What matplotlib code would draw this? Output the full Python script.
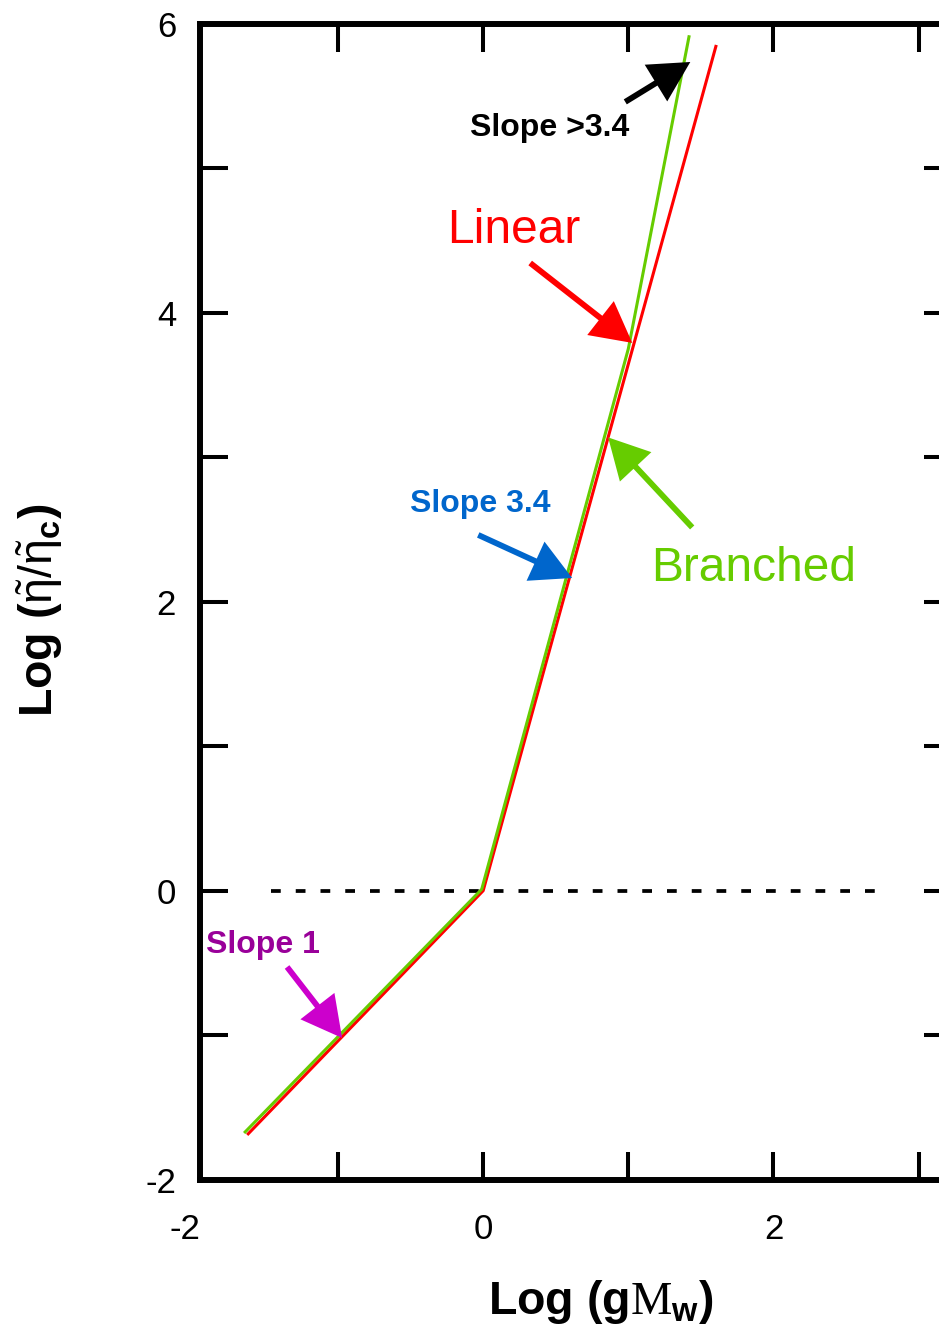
import matplotlib
matplotlib.use("Agg")
import matplotlib.pyplot as plt

plt.rcParams['font.family'] = ['Liberation Sans', 'DejaVu Sans']
plt.rcParams['mathtext.fontset'] = 'custom'
plt.rcParams['mathtext.rm'] = 'Liberation Serif'
plt.rcParams['mathtext.sf'] = 'Liberation Sans'
plt.rcParams['mathtext.bf'] = 'Liberation Sans:bold'

# datos
linear_x = [-1.626, 0.0, 1.606]
linear_y = [-1.69, 0.0, 5.853]
branched_x = [-1.647, -0.01, 1.0, 1.42]
branched_y = [-1.677, 0.01, 3.75, 5.92]
ref_x = [-1.461, 2.715]
ref_y = [0.0, 0.0]

x_ticks = [-2, -1, 0, 1, 2, 3]
x_labels = ['-2', '', '0', '', '2', '']
y_ticks = [-2, -1, 0, 1, 2, 3, 4, 5, 6]
y_labels = ['-2', '', '0', '', '2', '', '4', '', '6']

# (texto, color texto, color flecha, peso, tamano, posicion del texto, cola flecha, punta flecha)
notes = [
    ('Slope >3.4', 'black', 'black', 'bold', 23, (0.455, 5.278), (0.979, 5.459), (1.427, 5.735)),
    ('Linear', '#ff0000', '#ff0000', 'normal', 34.5, (0.214, 4.566), (0.324, 4.344), (1.027, 3.791)),
    ('Branched', '#66cc00', '#66cc00', 'normal', 34.5, (1.861, 2.233), (1.440, 2.514), (0.861, 3.137)),
    ('Slope 3.4', '#0066cc', '#0066cc', 'bold', 23, (-0.021, 2.676), (-0.034, 2.462), (0.613, 2.164)),
    ('Slope 1', '#990099', '#cc00cc', 'bold', 23, (-1.516, -0.375), (-1.351, -0.528), (-0.972, -1.019)),
]

fig = plt.figure(figsize=(9.39, 13.32), dpi=100)
ax = fig.add_axes([199.7 / 939, 1 - 1179.7 / 1332, (952 - 199.7) / 939, (1179.7 - 23.7) / 1332])

ax.plot(ref_x, ref_y, color='black', lw=2.7, dashes=(2.6, 4.0))
ax.plot(linear_x, linear_y, color='#ff0000', lw=2.2, solid_capstyle='butt')
ax.plot(branched_x, branched_y, color='#66cc00', lw=2.2, solid_capstyle='butt')

for txt, tcolor, acolor, weight, size, pos, tail, tip in notes:
    ax.annotate('', xy=tip, xytext=tail,
                arrowprops=dict(width=4.2, headwidth=31, headlength=29, shrink=0,
                                color=acolor, lw=0))
    ax.text(pos[0], pos[1], txt, color=tcolor, fontsize=size, fontweight=weight,
            ha='center', va='center')

ax.set_xlim(-1.953, 3.23)
ax.set_ylim(-2, 6)
ax.set_xticks(x_ticks[1:])
ax.set_xticklabels(x_labels[1:])
ax.set_yticks(y_ticks)
ax.set_yticklabels(y_labels)
# etiqueta -2 del eje x queda fuera del limite
ax.annotate(x_labels[0], xy=(x_ticks[0], 0), xycoords=('data', 'axes fraction'),
            xytext=(-6, -24), textcoords='offset points', ha='center', va='top',
            fontsize=25, annotation_clip=False)

for s in ax.spines.values():
    s.set_linewidth(4.3)
ax.tick_params(direction='in', length=20, width=2.9, labelsize=25,
               top=True, right=True)
ax.tick_params(axis='x', pad=24)
ax.tick_params(axis='y', pad=17)

fig.text(601 / 939, 1 - 1302 / 1332, r'Log (g$\mathrm{M}_{\mathbf{w}}$)',
         fontsize=33.5, fontweight='bold', ha='center', va='center')
fig.text(40 / 939, 1 - 610 / 1332,
         r'Log ($\tilde{\mathsf{\eta}}\mathsf{/}\tilde{\mathsf{\eta}}_{\mathbf{c}}$)',
         fontsize=33.5, fontweight='bold', ha='center', va='center', rotation=90)

fig.savefig('out.png', dpi=100)
